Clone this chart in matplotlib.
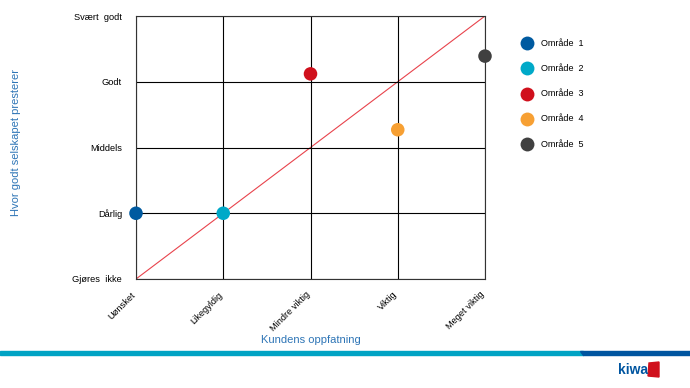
import numpy as np
import matplotlib.pyplot as plt
import matplotlib.transforms as mtrans
from matplotlib.patches import Rectangle, Polygon

plt.rcParams['font.family'] = ['Liberation Sans', 'DejaVu Sans']

# data
x_labels = ["Uønsket", "Likegyldig", "Mindre viktig", "Viktig", "Meget viktig"]
y_labels = ["Gjøres  ikke", "Dårlig", "Middels", "Godt", "Svært  godt"]
areas = ["Område  1", "Område  2", "Område  3", "Område  4", "Område  5"]
area_x = [0, 1, 2, 3, 4]
area_y = [1.0, 1.0, 3.12, 2.27, 3.39]
colors = ["#005AA0", "#00A9C8", "#D0101C", "#F7A033", "#404040"]

fig = plt.figure(figsize=(6.9, 3.88), dpi=100)
ax = fig.add_axes([136/690, 1-279/388, 349/690, 263/388])

ax.plot([0, 4], [0, 4], color="#E8434C", lw=0.8, zorder=1)
for i in range(5):
    ax.scatter(area_x[i], area_y[i], s=95, color=colors[i], zorder=3, clip_on=False,
               edgecolors="none")

ax.set_xlim(0, 4)
ax.set_ylim(0, 4)
ax.set_xticks(range(5))
ax.set_yticks(range(5))
ax.set_xticklabels(x_labels, rotation=45, ha="right", va="top", rotation_mode="anchor", fontsize=6.7)
ax.set_yticklabels(y_labels, fontsize=6.7)
ax.tick_params(length=0, pad=10)
ax.tick_params(axis="x", pad=8)
shift = mtrans.ScaledTranslation(-5/100, 0, fig.dpi_scale_trans)
for lab in ax.get_xticklabels():
    lab.set_transform(lab.get_transform() + shift)
ax.grid(True, color="black", lw=0.8)
for s in ax.spines.values():
    s.set_linewidth(0.8)
    s.set_color("#333333")

ax.set_xlabel("Kundens oppfatning", fontsize=8, color="#2E75B6")
ax.set_ylabel("Hvor godt selskapet presterer", fontsize=8, color="#2E75B6")
ax.xaxis.set_label_coords(0.5, -0.213)
ax.yaxis.set_label_coords(-0.33, 0.52)

# legend
for i in range(5):
    yy = 1 - (43 + i*25.3)/388
    fig.add_artist(plt.Line2D([527/690], [yy], marker="o", markersize=10, color=colors[i],
                              markeredgecolor="none", transform=fig.transFigure))
    fig.text(541/690, yy, areas[i], fontsize=6.5, va="center", ha="left")

# bottom band
fig.add_artist(Rectangle((0, 1-355/388), 583/690, 4/388, color="#00A3C4", transform=fig.transFigure))
fig.add_artist(Polygon([(580/690, 1-351/388), (690/690, 1-351/388), (690/690, 1-355/388), (583/690, 1-355/388)],
                       color="#0055A0", transform=fig.transFigure))
fig.text(648/690, 1-370/388, "kiwa", fontsize=10, fontweight="bold", color="#0055A0", ha="right", va="center")
fig.add_artist(Polygon([(649/690, 1-363/388), (659/690, 1-362/388), (659/690, 1-377/388), (648/690, 1-376/388)],
                       color="#D0101C", transform=fig.transFigure))

fig.savefig("out.png", dpi=100)
